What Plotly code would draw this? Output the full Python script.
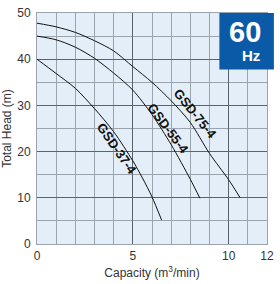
import plotly.graph_objects as go

# Data
q75 = [0, 1, 2, 3, 4, 5, 6, 7, 8, 9, 10, 10.6]
h75 = [47.8, 47.0, 45.8, 44.0, 41.8, 38.4, 35.0, 31.0, 26.3, 19.6, 13.9, 10.0]
q55 = [0, 1, 2, 3, 4, 5, 6, 7, 8, 8.5]
h55 = [45.0, 44.2, 42.6, 40.2, 37.0, 33.3, 28.0, 21.5, 14.0, 9.9]
q37 = [0, 1, 2, 3, 4, 5, 5.5, 6, 6.5]
h37 = [40.0, 36.9, 33.7, 29.3, 24.3, 18.0, 14.3, 10.2, 5.2]

labels = ["GSD-75-4", "GSD-55-4", "GSD-37-4"]
label_x = [8.25, 6.85, 4.15]
label_y = [28.3, 25.1, 20.6]
label_angle = [51, 53, 55]

x_ticks = [0, 5, 10, 12]
y_ticks = [0, 10, 20, 30, 40, 50]

FONT = "Liberation Sans, Arial, sans-serif"
BG = "#e4eef8"
MINOR = "#99a4ad"
MAJOR = "#59636b"

fig = go.Figure()
for q, h in [(q75, h75), (q55, h55), (q37, h37)]:
    fig.add_trace(go.Scatter(x=q, y=h, mode="lines",
                             line=dict(color="#111111", width=1, shape="spline", smoothing=0.8),
                             hoverinfo="skip", showlegend=False))

for t, x, y, a in zip(labels, label_x, label_y, label_angle):
    fig.add_annotation(x=x, y=y, text="<b>%s</b>" % t, showarrow=False, textangle=a,
                       font=dict(family=FONT, size=13, color="#111111"))

# 60 Hz badge
fig.add_shape(type="rect", xref="paper", yref="paper", x0=0.793, x1=1.03, y0=0.755, y1=1.0,
              fillcolor="#0b5aa7", line=dict(width=0), layer="above")
fig.add_annotation(xref="paper", yref="paper", x=0.982, y=0.918, xanchor="right", yanchor="middle",
                   text="<b>60</b>", showarrow=False,
                   font=dict(family=FONT, size=29, color="white"))
fig.add_annotation(xref="paper", yref="paper", x=0.980, y=0.815, xanchor="right", yanchor="middle",
                   text="<b>Hz</b>", showarrow=False,
                   font=dict(family=FONT, size=15, color="white"))

fig.update_layout(
    width=280, height=284,
    margin=dict(l=37, r=6, t=9, b=38),
    plot_bgcolor=BG, paper_bgcolor="white",
    font=dict(family=FONT, size=12, color="#333333"),
    xaxis=dict(range=[0, 12], tickvals=x_ticks, showgrid=True, gridcolor=MAJOR, gridwidth=1,
               minor=dict(dtick=1, showgrid=True, gridcolor=MINOR, gridwidth=1),
               zeroline=False, showline=True, mirror=True, linecolor=MINOR, linewidth=1,
               ticks="", ticklabelstandoff=1,
               tickfont=dict(family=FONT, size=12, color="#333333"),
               title=dict(text="Capacity (m<sup>3</sup>/min)", standoff=6,
                          font=dict(family=FONT, size=12, color="#333333"))),
    yaxis=dict(range=[0, 50], tickvals=y_ticks, showgrid=True, gridcolor=MAJOR, gridwidth=1,
               minor=dict(dtick=5, showgrid=True, gridcolor=MINOR, gridwidth=1),
               zeroline=False, showline=True, mirror=True, linecolor=MINOR, linewidth=1,
               ticks="", ticklabelstandoff=3,
               tickfont=dict(family=FONT, size=12, color="#333333"),
               title=dict(text="Total Head (m)", standoff=3,
                          font=dict(family=FONT, size=12, color="#333333"))),
)

fig.write_html("out.html")
